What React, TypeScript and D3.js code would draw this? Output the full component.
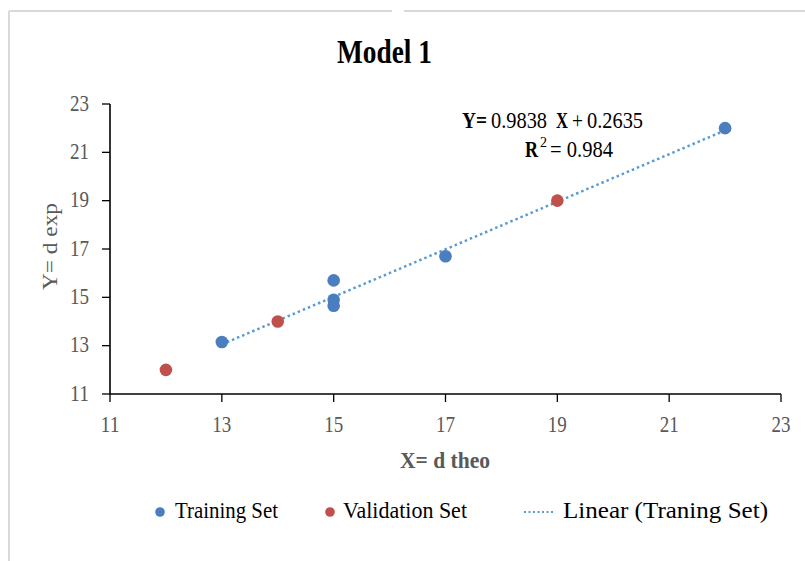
import React from "react";
import * as d3 from "d3";

const trainingX = [13, 15, 15, 15, 17, 22];
const trainingY = [13.15, 15.7, 14.9, 14.65, 16.7, 22.0];
const validationX = [12, 14, 19];
const validationY = [12.0, 14.0, 19.0];
const slope = 0.9838;
const intercept = 0.2635;
const fitRange = [13, 22];
const ticks = [11, 13, 15, 17, 19, 21, 23];

const W = 805;
const H = 561;
const FONT = "'Liberation Serif', 'Times New Roman', serif";
const BLUE = "#4a7ebf";
const RED = "#c0504d";
const LINE = "#5b9bd5";
const GREY = "#595959";

export default function App() {
  const x = d3.scaleLinear().domain([11, 23]).range([110, 781]);
  const y = d3.scaleLinear().domain([11, 23]).range([394, 104]);
  const line = d3
    .line<number>()
    .x((d) => x(d))
    .y((d) => y(slope * d + intercept));

  const fit = { lengthAdjust: "spacingAndGlyphs" as const };

  return (
    <svg
      width={W}
      height={H}
      style={{ position: "absolute", left: 0, top: 0, background: "#fff" }}
      fontFamily={FONT}
    >
      <rect x={0} y={0} width={W} height={H} fill="#fff" />
      {/* frame */}
      <line x1={9} y1={11} x2={9} y2={H} stroke="#d9d9d9" strokeWidth={2} />
      <line x1={9} y1={11} x2={392} y2={11} stroke="#d9d9d9" strokeWidth={2} />
      <line x1={404} y1={11} x2={W} y2={11} stroke="#d9d9d9" strokeWidth={2} />

      <text x={337} y={63} fontSize={34} fontWeight="bold" fill="#000" textLength={95} {...fit}>
        Model 1
      </text>

      {/* axes */}
      <line x1={x(11)} y1={y(11)} x2={x(23)} y2={y(11)} stroke="#000" strokeWidth={1.6} />
      <line x1={x(11)} y1={y(11)} x2={x(11)} y2={y(23)} stroke="#000" strokeWidth={1.6} />
      {ticks.map((t) => (
        <g key={"x" + t}>
          <line x1={x(t)} y1={y(11)} x2={x(t)} y2={y(11) + 8} stroke="#000" strokeWidth={1.3} />
          <text
            x={x(t) - 9.5}
            y={y(11) + 38}
            fontSize={23}
            fill={GREY}
            textLength={19}
            {...fit}
          >
            {t}
          </text>
        </g>
      ))}
      {ticks.map((t) => (
        <g key={"y" + t}>
          <line x1={x(11) - 8} y1={y(t)} x2={x(11)} y2={y(t)} stroke="#000" strokeWidth={1.3} />
          <text x={70} y={y(t) + 6.5} fontSize={23} fill={GREY} textLength={19} {...fit}>
            {t}
          </text>
        </g>
      ))}

      <text x={400} y={468} fontSize={24} fontWeight="bold" fill={GREY} textLength={90} {...fit}>
        X= d theo
      </text>
      <text
        transform={`translate(57, 290) rotate(-90)`}
        fontSize={22}
        fill={GREY}
        textLength={87}
        {...fit}
      >
        Y=  d exp
      </text>

      {/* trendline */}
      <path d={line(fitRange) || ""} fill="none" stroke={LINE} strokeWidth={2.5} strokeDasharray="2.5 3" />

      {trainingX.map((v, i) => (
        <circle key={"t" + i} cx={x(v)} cy={y(trainingY[i])} r={6.3} fill={BLUE} />
      ))}
      {validationX.map((v, i) => (
        <circle key={"v" + i} cx={x(v)} cy={y(validationY[i])} r={6.3} fill={RED} />
      ))}

      {/* equation */}
      <text x={462} y={128} fontSize={24} fontWeight="bold" fill="#000" textLength={25} {...fit}>Y=</text>
      <text x={491} y={128} fontSize={24} fill="#000" textLength={56} {...fit}>0.9838</text>
      <text x={556} y={128} fontSize={24} fontWeight="bold" fill="#000" textLength={12} {...fit}>X</text>
      <text x={572} y={128} fontSize={24} fill="#000" textLength={11} {...fit}>+</text>
      <text x={587} y={128} fontSize={24} fill="#000" textLength={56} {...fit}>0.2635</text>
      <text x={525} y={157} fontSize={23} fontWeight="bold" fill="#000" textLength={13} {...fit}>R</text>
      <text x={540} y={147} fontSize={15} fill="#000" textLength={7} {...fit}>2</text>
      <text x={550} y={157} fontSize={23} fill="#000" textLength={63} {...fit}>= 0.984</text>

      {/* legend */}
      <circle cx={160} cy={512} r={4.8} fill={BLUE} />
      <text x={175} y={518} fontSize={23} fill="#000" textLength={103} {...fit}>Training Set</text>
      <circle cx={330} cy={512} r={4.8} fill={RED} />
      <text x={343} y={518} fontSize={23} fill="#000" textLength={124} {...fit}>Validation Set</text>
      <line x1={524} y1={512} x2={553} y2={512} stroke={LINE} strokeWidth={2} strokeDasharray="2 2.5" />
      <text x={563} y={518} fontSize={23} fill="#000" textLength={205} {...fit}>Linear (Traning Set)</text>
    </svg>
  );
}
